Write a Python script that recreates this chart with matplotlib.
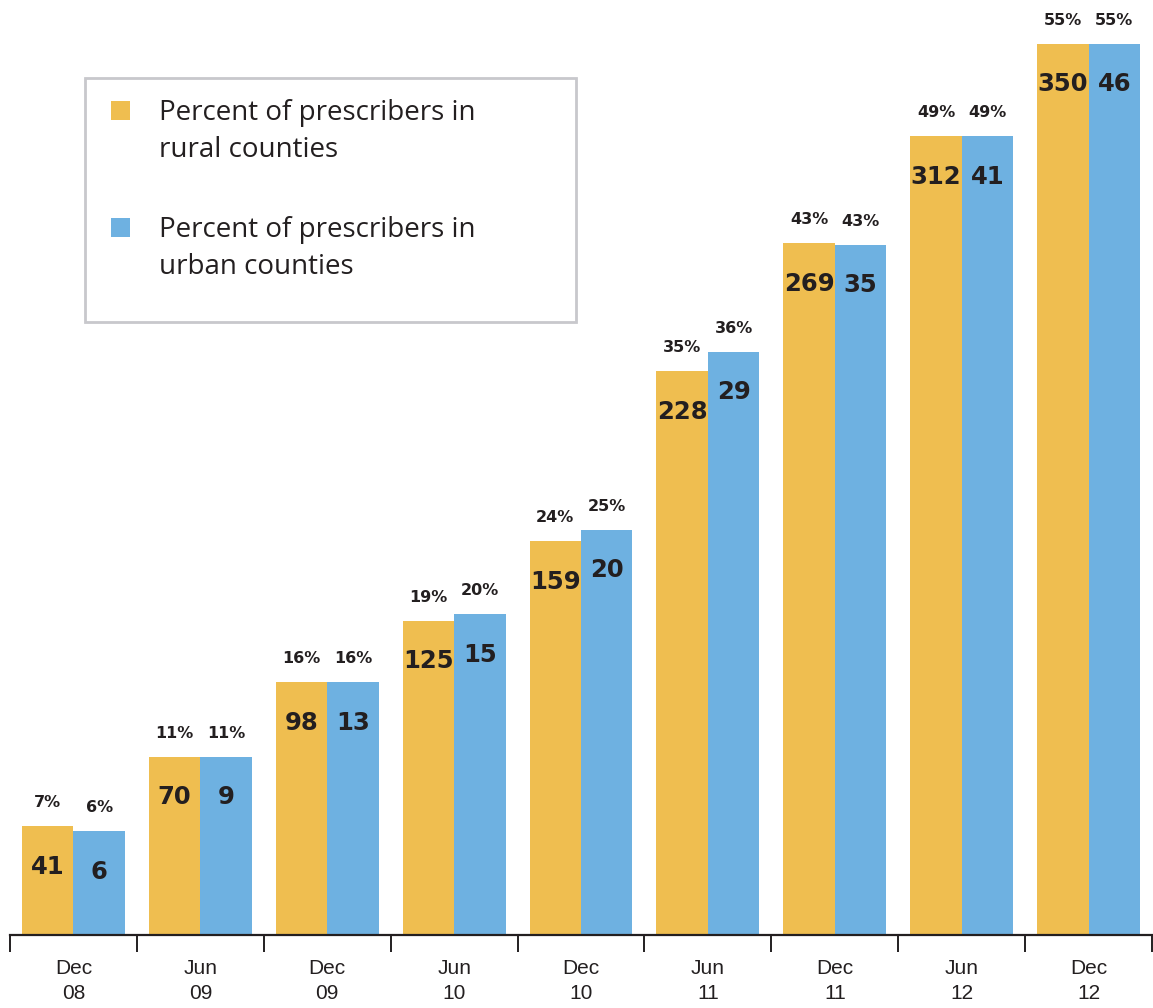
import matplotlib
matplotlib.use("Agg")
import matplotlib.pyplot as plt
import numpy as np
from matplotlib.patches import Rectangle

periods = ["Dec\n08", "Jun\n09", "Dec\n09", "Jun\n10", "Dec\n10", "Jun\n11", "Dec\n11", "Jun\n12", "Dec\n12"]
rural_pct = [6.7, 11.0, 15.6, 19.4, 24.3, 34.8, 42.7, 49.3, 55.0]
urban_pct = [6.4, 11.0, 15.6, 19.8, 25.0, 36.0, 42.6, 49.3, 55.0]
rural_n = [41, 70, 98, 125, 159, 228, 269, 312, 350]
urban_n = [6, 9, 13, 15, 20, 29, 35, 41, 46]
legend_labels = ["Percent of prescribers in\nrural counties", "Percent of prescribers in\nurban counties"]

YELLOW = "#EFBE50"
BLUE = "#6EB1E1"
DARK = "#231F20"

W, H = 1153, 1008
fig = plt.figure(figsize=(W / 100, H / 100), dpi=100)
ax = fig.add_axes([10 / W, (H - 935) / H, 1142 / W, 891 / H])
ax.set_xlim(-0.5, len(periods) - 0.5)
ax.set_ylim(0, 55)

x = np.arange(len(periods))
bw = 0.405
ax.bar(x - bw / 2, rural_pct, width=bw, color=YELLOW, zorder=2)
ax.bar(x + bw / 2, urban_pct, width=bw, color=BLUE, zorder=2)

for i in range(len(periods)):
    for xx, p, n in ((x[i] - bw / 2, rural_pct[i], rural_n[i]), (x[i] + bw / 2, urban_pct[i], urban_n[i])):
        ax.annotate(f"{round(p)}%", (xx, p), xytext=(0, 17), textcoords="offset points",
                    ha="center", va="center", fontsize=11.5, fontweight="bold", color=DARK,
                    family="DejaVu Sans", annotation_clip=False)
        ax.annotate(f"{n}", (xx, p), xytext=(0, -29), textcoords="offset points",
                    ha="center", va="center", fontsize=17.5, fontweight="heavy", color=DARK,
                    family="DejaVu Sans", annotation_clip=False)

for s in ["top", "right", "left"]:
    ax.spines[s].set_visible(False)
ax.spines["bottom"].set_color(DARK)
ax.spines["bottom"].set_linewidth(1.6)
ax.set_yticks([])
ax.set_xticks(np.arange(-0.5, len(periods)), minor=False)
ax.set_xticklabels([])
ax.tick_params(axis="x", length=12, width=1.4, color=DARK, direction="out")
ax.set_xticks(x, minor=True)
ax.set_xticklabels(periods, minor=True, fontsize=15, color=DARK, family="Liberation Sans", linespacing=1.4)
ax.tick_params(axis="x", which="minor", length=0, pad=17)

# legend box
fig.patches.append(Rectangle((85 / W, (H - 322) / H), 491 / W, 244 / H, transform=fig.transFigure,
                             facecolor="white", edgecolor="#C8C8CC", linewidth=2, zorder=5))
for k, (lab, col) in enumerate(zip(legend_labels, [YELLOW, BLUE])):
    ytop = 101 + k * 117
    fig.patches.append(Rectangle((111 / W, (H - ytop - 19) / H), 19 / W, 19 / H, transform=fig.transFigure,
                                 facecolor=col, edgecolor="none", zorder=6))
    fig.text(159 / W, (H - 99 - k * 117) / H, lab, ha="left", va="top", fontsize=20, color=DARK,
             family="Open Sans", linespacing=1.42, zorder=7)

fig.savefig("out.png", dpi=100)
